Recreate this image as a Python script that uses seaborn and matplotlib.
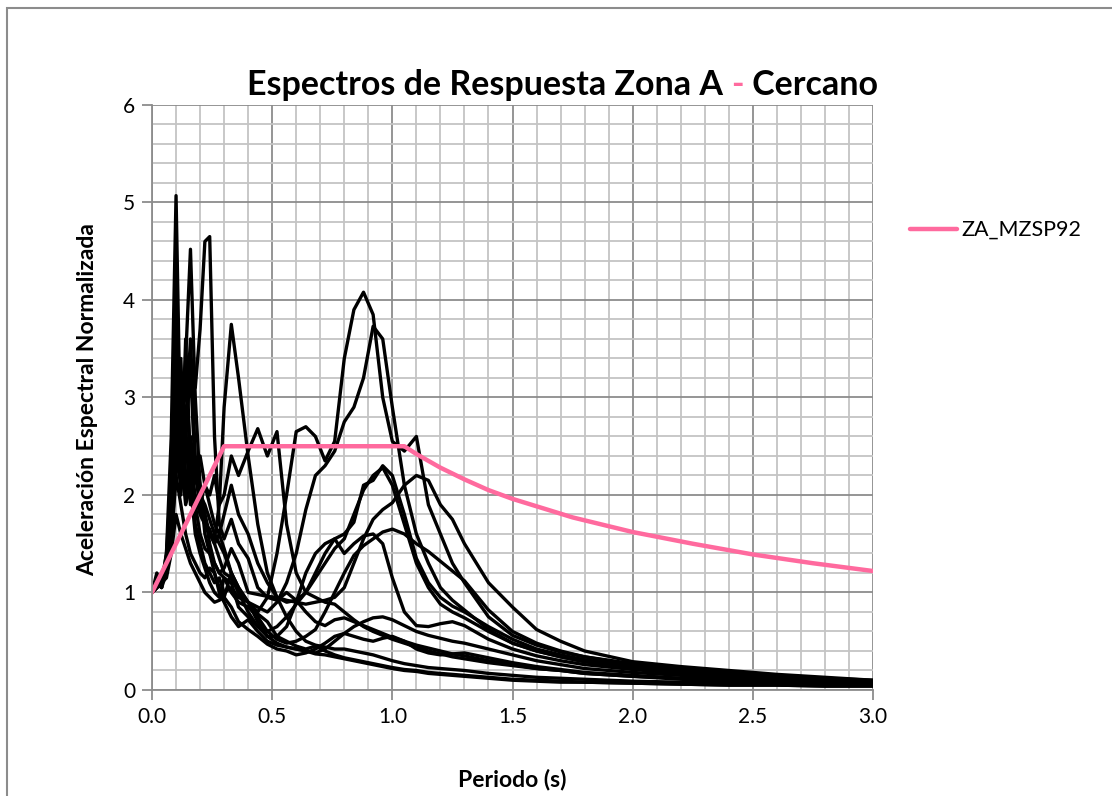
import numpy as np
import pandas as pd
import matplotlib
matplotlib.use("Agg")
import matplotlib.pyplot as plt
from matplotlib.ticker import MultipleLocator, FormatStrFormatter
from matplotlib.patches import Rectangle
from matplotlib.lines import Line2D
import seaborn as sns

# ---------------- data ----------------
periods = [0.00, 0.02, 0.04, 0.06, 0.08, 0.10, 0.12, 0.14, 0.16, 0.18, 0.20, 0.22, 0.24, 0.26, 0.28, 0.30,
           0.33, 0.36,
           0.40, 0.44, 0.48, 0.52, 0.56, 0.60, 0.64, 0.68, 0.72, 0.76, 0.80, 0.84, 0.88, 0.92, 0.96, 1.00,
           1.05, 1.10, 1.15, 1.20, 1.25, 1.30,
           1.40, 1.50, 1.60, 1.70, 1.80,
           2.00, 2.20, 2.40, 2.60, 2.80, 3.00]

rec01 = ([1.00, 1.10, 1.05, 1.40, 2.60, 5.07, 2.40, 1.90, 2.10, 1.60, 1.40, 1.25, 1.10, 1.00, 0.95, 1.15]
         + [1.10, 0.85]
         + [0.75, 0.65, 0.55, 0.48, 0.44, 0.42, 0.40, 0.37, 0.36, 0.34, 0.32, 0.30, 0.28, 0.26, 0.24, 0.22]
         + [0.20, 0.19, 0.17, 0.16, 0.15, 0.14]
         + [0.12, 0.10, 0.09, 0.08, 0.08]
         + [0.07, 0.06, 0.05, 0.05, 0.04, 0.04])
rec02 = ([1.00, 1.05, 1.20, 1.25, 1.70, 3.20, 2.60, 3.40, 4.52, 3.00, 2.10, 1.60, 1.40, 1.20, 1.05, 0.95]
         + [1.20, 1.05]
         + [0.90, 0.78, 0.70, 0.55, 0.50, 0.45, 0.42, 0.45, 0.40, 0.36, 0.33, 0.31, 0.29, 0.27, 0.25, 0.23]
         + [0.21, 0.20, 0.18, 0.17, 0.16, 0.15]
         + [0.13, 0.11, 0.10, 0.09, 0.08]
         + [0.07, 0.06, 0.05, 0.05, 0.04, 0.04])
rec03 = ([1.00, 1.15, 1.10, 1.30, 1.90, 2.40, 2.90, 2.60, 3.40, 3.10, 3.70, 4.60, 4.65, 2.60, 1.70, 1.55]
         + [1.75, 1.50]
         + [1.35, 1.05, 0.95, 0.92, 1.00, 0.92, 0.80, 0.70, 0.66, 0.72, 0.74, 0.70, 0.66, 0.62, 0.58, 0.54]
         + [0.50, 0.46, 0.43, 0.40, 0.37, 0.35]
         + [0.30, 0.26, 0.22, 0.20, 0.17]
         + [0.14, 0.11, 0.09, 0.08, 0.07, 0.06])
rec04 = ([1.00, 1.10, 1.15, 1.20, 1.50, 3.60, 2.00, 2.70, 1.90, 2.30, 1.90, 1.70, 1.60, 1.55, 1.90, 2.90]
         + [3.75, 3.20]
         + [2.40, 1.70, 1.20, 0.95, 0.75, 0.60, 0.50, 0.46, 0.44, 0.42, 0.42, 0.40, 0.38, 0.36, 0.33, 0.30]
         + [0.27, 0.25, 0.23, 0.22, 0.21, 0.20]
         + [0.17, 0.15, 0.13, 0.12, 0.11]
         + [0.09, 0.08, 0.07, 0.06, 0.05, 0.05])
rec05 = ([1.00, 1.05, 1.10, 1.30, 1.70, 2.70, 2.20, 2.50, 2.10, 2.30, 2.00, 1.80, 1.60, 1.50, 1.60, 1.45]
         + [1.20, 1.00]
         + [0.90, 0.80, 0.95, 1.40, 2.00, 2.65, 2.70, 2.60, 2.35, 2.55, 3.40, 3.90, 4.08, 3.85, 3.00, 2.55]
         + [2.45, 2.60, 1.90, 1.60, 1.30, 1.10]
         + [0.75, 0.56, 0.46, 0.39, 0.34]
         + [0.27, 0.22, 0.18, 0.15, 0.12, 0.10])
rec06 = ([1.00, 1.10, 1.05, 1.35, 2.00, 3.00, 2.60, 3.20, 2.40, 2.20, 2.00, 1.90, 1.75, 1.60, 1.50, 1.40]
         + [1.20, 1.05]
         + [0.90, 0.85, 0.80, 0.90, 1.10, 1.40, 1.85, 2.20, 2.30, 2.45, 2.75, 2.90, 3.20, 3.73, 3.60, 2.90]
         + [2.10, 1.60, 1.30, 1.05, 0.92, 0.82]
         + [0.62, 0.48, 0.40, 0.34, 0.29]
         + [0.22, 0.18, 0.15, 0.12, 0.10, 0.08])
rec07 = ([1.00, 1.20, 1.10, 1.40, 2.20, 2.90, 2.40, 2.60, 3.30, 2.20, 2.40, 2.10, 1.90, 1.70, 1.60, 1.80]
         + [2.10, 1.80]
         + [1.60, 1.30, 1.10, 0.95, 0.90, 0.92, 1.00, 1.20, 1.40, 1.55, 1.60, 1.72, 2.10, 2.15, 2.30, 2.20]
         + [1.80, 1.35, 1.10, 0.95, 0.86, 0.80]
         + [0.65, 0.52, 0.42, 0.36, 0.31]
         + [0.24, 0.20, 0.16, 0.13, 0.11, 0.09])
rec08 = ([1.00, 1.05, 1.10, 1.25, 1.80, 2.50, 3.20, 2.70, 3.60, 2.40, 2.10, 1.80, 1.50, 1.30, 1.20, 1.25]
         + [1.45, 1.30]
         + [1.00, 0.98, 0.96, 0.95, 0.92, 0.90, 0.88, 0.90, 0.92, 0.95, 1.05, 1.30, 1.55, 1.75, 1.85, 1.92]
         + [2.10, 2.20, 2.15, 1.90, 1.75, 1.50]
         + [1.10, 0.85, 0.62, 0.50, 0.40]
         + [0.29, 0.24, 0.20, 0.16, 0.13, 0.10])
rec09 = ([1.00, 1.10, 1.20, 1.30, 1.70, 3.90, 2.30, 2.00, 2.60, 2.20, 1.90, 2.10, 2.00, 2.20, 1.90, 2.00]
         + [2.40, 2.20]
         + [2.45, 2.68, 2.40, 2.65, 1.70, 1.20, 1.00, 0.95, 0.90, 0.88, 0.80, 0.72, 0.65, 0.60, 0.56, 0.52]
         + [0.48, 0.44, 0.40, 0.37, 0.34, 0.32]
         + [0.28, 0.25, 0.22, 0.20, 0.17]
         + [0.14, 0.12, 0.10, 0.08, 0.07, 0.06])
rec10 = ([1.00, 1.10, 1.15, 1.25, 1.60, 2.20, 3.40, 2.00, 2.40, 1.90, 1.60, 1.45, 1.40, 1.30, 1.20, 1.15]
         + [1.00, 0.90]
         + [0.85, 0.75, 0.60, 0.52, 0.48, 0.50, 0.55, 0.62, 0.80, 1.00, 1.20, 1.38, 1.48, 1.55, 1.62, 1.65]
         + [1.60, 1.50, 1.42, 1.32, 1.22, 1.12]
         + [0.82, 0.60, 0.48, 0.40, 0.34]
         + [0.26, 0.21, 0.17, 0.14, 0.11, 0.09])
rec11 = ([1.00, 1.05, 1.15, 1.30, 1.90, 4.20, 2.40, 2.00, 2.50, 1.70, 1.50, 1.30, 1.20, 1.10, 1.15, 1.00]
         + [1.05, 0.95]
         + [0.90, 0.70, 0.55, 0.55, 0.65, 0.90, 1.20, 1.40, 1.50, 1.55, 1.40, 1.50, 1.58, 1.60, 1.50, 1.15]
         + [0.80, 0.66, 0.65, 0.68, 0.70, 0.66]
         + [0.52, 0.42, 0.35, 0.30, 0.26]
         + [0.21, 0.17, 0.14, 0.11, 0.09, 0.07])
rec12 = ([1.00, 1.10, 1.05, 1.20, 1.50, 2.20, 1.90, 1.60, 1.40, 1.30, 1.20, 1.15, 1.25, 1.20, 1.00, 0.90]
         + [0.75, 0.65]
         + [0.72, 0.60, 0.50, 0.46, 0.44, 0.42, 0.40, 0.38, 0.42, 0.50, 0.58, 0.65, 0.70, 0.74, 0.75, 0.72]
         + [0.66, 0.60, 0.56, 0.53, 0.50, 0.48]
         + [0.42, 0.36, 0.30, 0.26, 0.22]
         + [0.18, 0.15, 0.12, 0.10, 0.08, 0.07])
rec13 = ([1.00, 1.05, 1.10, 1.15, 1.40, 1.80, 1.60, 1.45, 1.30, 1.20, 1.10, 1.00, 0.95, 0.90, 0.92, 0.95]
         + [0.85, 0.70]
         + [0.62, 0.55, 0.47, 0.42, 0.40, 0.36, 0.38, 0.42, 0.48, 0.55, 0.58, 0.55, 0.52, 0.50, 0.53, 0.55]
         + [0.50, 0.42, 0.38, 0.36, 0.37, 0.38]
         + [0.33, 0.28, 0.24, 0.21, 0.18]
         + [0.15, 0.12, 0.10, 0.08, 0.07, 0.06])
rec14 = ([1.00, 1.05, 1.10, 1.20, 1.60, 2.40, 2.10, 3.60, 2.30, 2.00, 1.80, 1.70, 1.65, 1.50, 1.35, 1.20]
         + [1.15, 1.00]
         + [0.80, 0.65, 0.60, 0.65, 0.75, 0.88, 1.00, 1.15, 1.30, 1.45, 1.55, 1.80, 2.05, 2.20, 2.28, 2.10]
         + [1.70, 1.30, 1.05, 0.88, 0.80, 0.74]
         + [0.60, 0.48, 0.40, 0.34, 0.29]
         + [0.23, 0.19, 0.15, 0.12, 0.10, 0.08])

records = [rec01, rec02, rec03, rec04, rec05, rec06, rec07, rec08, rec09, rec10, rec11, rec12, rec13, rec14]

design_T = [0.00, 0.30, 1.05, 1.10, 1.20, 1.30, 1.40, 1.50, 1.75, 2.00, 2.25, 2.50, 2.75, 3.00]
design_Sa = [1.00, 2.50, 2.50, 2.42, 2.28, 2.16, 2.05, 1.96, 1.77, 1.62, 1.50, 1.39, 1.30, 1.22]

title_main = "Espectros de Respuesta Zona A "
title_dash = "-"
title_end = " Cercano"
xlabel = "Periodo (s)"
ylabel = "Aceleración Espectral Normalizada"
legend_label = "ZA_MZSP92"

# ---------------- frame ----------------
rows = []
for i, r in enumerate(records):
    for t, v in zip(periods, r):
        rows.append({"T": t, "Sa": v, "rec": i})
df = pd.DataFrame(rows)
dfd = pd.DataFrame({"T": design_T, "Sa": design_Sa})

sns.set_style("white")
plt.rcParams["font.family"] = ["Lato", "DejaVu Sans"]
plt.rcParams["text.color"] = "black"
plt.rcParams["axes.labelcolor"] = "black"
plt.rcParams["xtick.color"] = "black"
plt.rcParams["ytick.color"] = "black"

PINK = "#FF6A9E"
fig = plt.figure(figsize=(11.12, 7.96), dpi=100)
ax = fig.add_axes([0.1367, 0.1332, 0.6484, 0.7349])

sns.lineplot(data=df, x="T", y="Sa", units="rec", estimator=None, color="black",
             lw=2.4, ax=ax, legend=False, sort=False)
sns.lineplot(data=dfd, x="T", y="Sa", color=PINK, lw=3.2, ax=ax, legend=False)

ax.set_xlim(0, 3.0)
ax.set_ylim(0, 6)
ax.xaxis.set_major_locator(MultipleLocator(0.5))
ax.xaxis.set_minor_locator(MultipleLocator(0.1))
ax.yaxis.set_major_locator(MultipleLocator(1))
ax.yaxis.set_minor_locator(MultipleLocator(0.2))
ax.xaxis.set_major_formatter(FormatStrFormatter("%.1f"))
ax.yaxis.set_major_formatter(FormatStrFormatter("%d"))
ax.grid(which="minor", color="#c4c4c4", lw=1.3)
ax.grid(which="major", color="#8c8c8c", lw=1.3)
ax.set_axisbelow(True)
for s in ["top", "right"]:
    ax.spines[s].set_visible(False)
for s in ["left", "bottom"]:
    ax.spines[s].set_color("#8c8c8c")
    ax.spines[s].set_linewidth(1.3)
ax.tick_params(which="major", length=7, width=1.3, color="#8c8c8c", labelsize=15,
               labelcolor="black", pad=5, direction="out", left=True, bottom=True)
ax.tick_params(which="minor", length=0)

ax.set_xlabel(xlabel, fontsize=16.5, fontweight="bold", color="black")
ax.set_ylabel(ylabel, fontsize=16.5, fontweight="bold", color="black")
ax.xaxis.set_label_coords(0.5, -0.135)
ax.yaxis.set_label_coords(-0.075, 0.496)

# title in three pieces (pink dash)
t1 = fig.text(0.222, 0.893, title_main, fontsize=24.5, fontweight="bold", va="center",
              ha="left", color="black")
t2 = ax.annotate(title_dash, xy=(1, 0), xycoords=t1, va="bottom", ha="left",
                 fontsize=24.5, fontweight="bold", color=PINK, annotation_clip=False)
t3 = ax.annotate(title_end, xy=(1, 0), xycoords=t2, va="bottom", ha="left",
                 fontsize=24.5, fontweight="bold", color="black", annotation_clip=False)

handle = Line2D([], [], color=PINK, lw=3.2, solid_capstyle="round")
fig.legend(handles=[handle], labels=[legend_label], loc="center left",
           bbox_to_anchor=(0.818, 0.711), frameon=False, fontsize=15.5,
           handlelength=2.2, handletextpad=0.2, borderpad=0, borderaxespad=0)

fig.patches.append(Rectangle((0.0063, -0.2), 1.5, 1.19, transform=fig.transFigure,
                             fill=False, edgecolor="#8c8c8c", lw=1.5))

fig.savefig("out.png", dpi=100)
